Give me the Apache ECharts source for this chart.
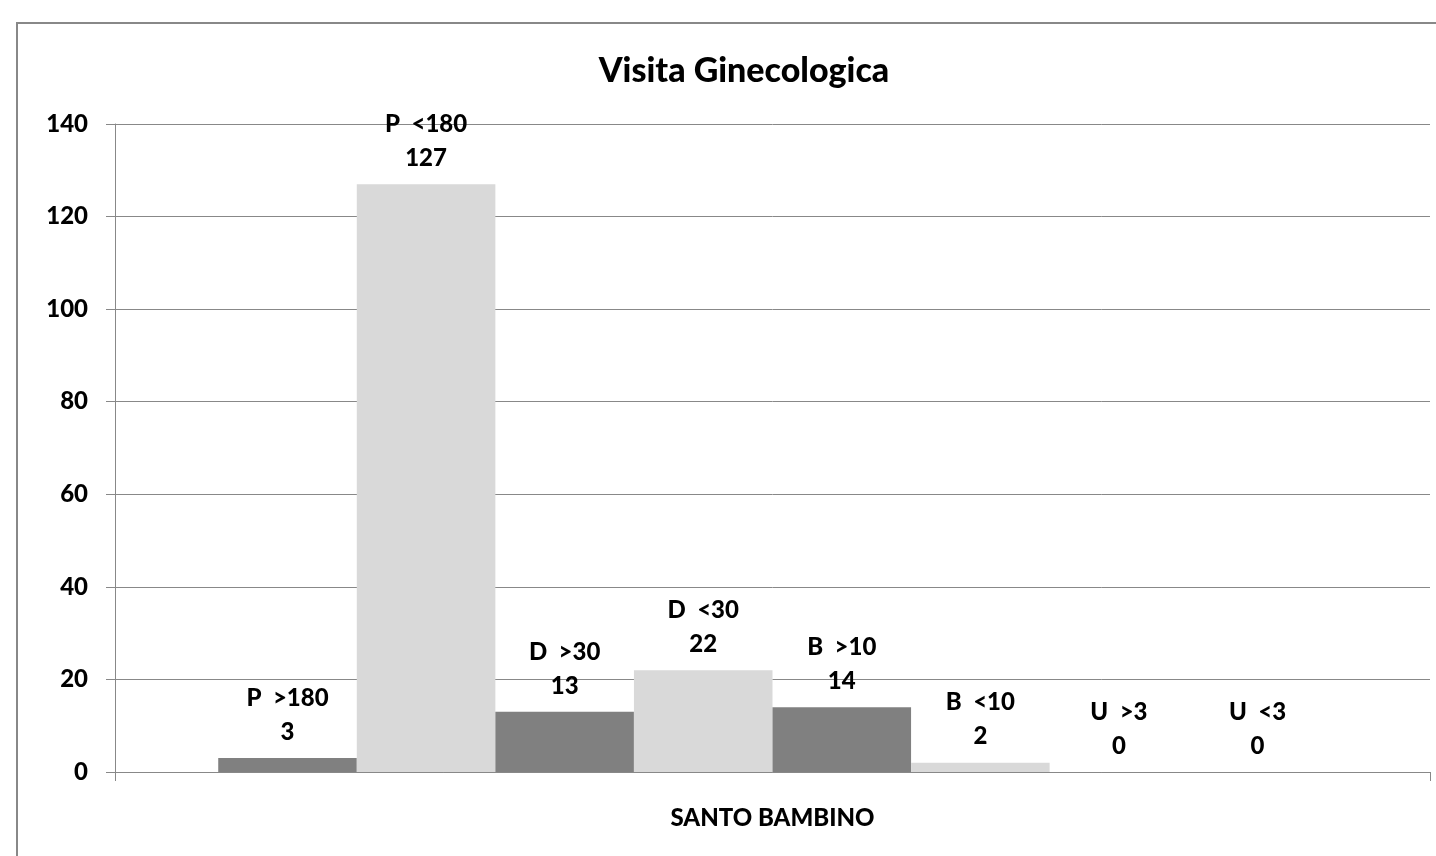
<!DOCTYPE html>
<html>
<head>
<meta charset="utf-8">
<script src="https://cdn.jsdelivr.net/npm/echarts@6/dist/echarts.min.js"></script>
<style>
  html, body { margin: 0; padding: 0; background: #fff; }
  #chart { width: 1436px; height: 856px; }
</style>
</head>
<body>
<div id="chart"></div>
<script>
const categories = ['SANTO BAMBINO'];
const seriesNames = ['P  >180', 'P  <180', 'D  >30', 'D  <30', 'B  >10', 'B  <10', 'U  >3', 'U  <3'];
const seriesValues = [3, 127, 13, 22, 14, 2, 0, 0];
const seriesColors = ['#808080', '#d9d9d9', '#808080', '#d9d9d9', '#808080', '#d9d9d9', '#808080', '#d9d9d9'];
const yTicks = [0, 20, 40, 60, 80, 100, 120, 140];

const FONT = 'Lato';
const WEIGHT = 900;
const chart = echarts.init(document.getElementById('chart'));

const series = seriesNames.map((name, i) => ({
  name: name,
  type: 'bar',
  data: [seriesValues[i]],
  barGap: '0%',
  barCategoryGap: '15.7%',
  itemStyle: { color: seriesColors[i] },
  label: {
    show: true,
    position: 'top',
    distance: 9,
    formatter: '{a}\n{c}',
    color: '#000',
    fontFamily: FONT,
    fontWeight: WEIGHT,
    fontSize: 24,
    lineHeight: 34,
    align: 'center'
  },
  animation: false
}));

chart.setOption({
  animation: false,
  backgroundColor: '#fff',
  title: {
    text: 'Visita Ginecologica',
    left: 739,
    top: 49,
    textAlign: 'center',
    textStyle: { fontFamily: FONT, fontWeight: WEIGHT, fontSize: 34, color: '#000' }
  },
  graphic: [{
    type: 'rect',
    shape: { x: 17, y: 23, width: 1440, height: 900 },
    style: { fill: 'none', stroke: '#888', lineWidth: 2 },
    silent: true,
    z: -1
  }],
  grid: { left: 115, right: 6, top: 124, bottom: 84, containLabel: false },
  xAxis: {
    type: 'category',
    data: categories,
    axisLine: { show: true, lineStyle: { color: '#888', width: 1 } },
    axisTick: { show: true, length: 9, lineStyle: { color: '#888' } },
    axisLabel: { color: '#000', fontFamily: FONT, fontWeight: WEIGHT, fontSize: 24, margin: 34 }
  },
  yAxis: {
    type: 'value',
    min: yTicks[0],
    max: yTicks[yTicks.length - 1],
    interval: yTicks[1] - yTicks[0],
    axisLine: { show: true, lineStyle: { color: '#888', width: 1 } },
    axisTick: { show: true, length: 9, lineStyle: { color: '#888' } },
    axisLabel: { color: '#000', fontFamily: FONT, fontWeight: WEIGHT, fontSize: 24, margin: 27 },
    splitLine: { show: true, lineStyle: { color: '#888', width: 1 } }
  },
  series: series
});
</script>
</body>
</html>
